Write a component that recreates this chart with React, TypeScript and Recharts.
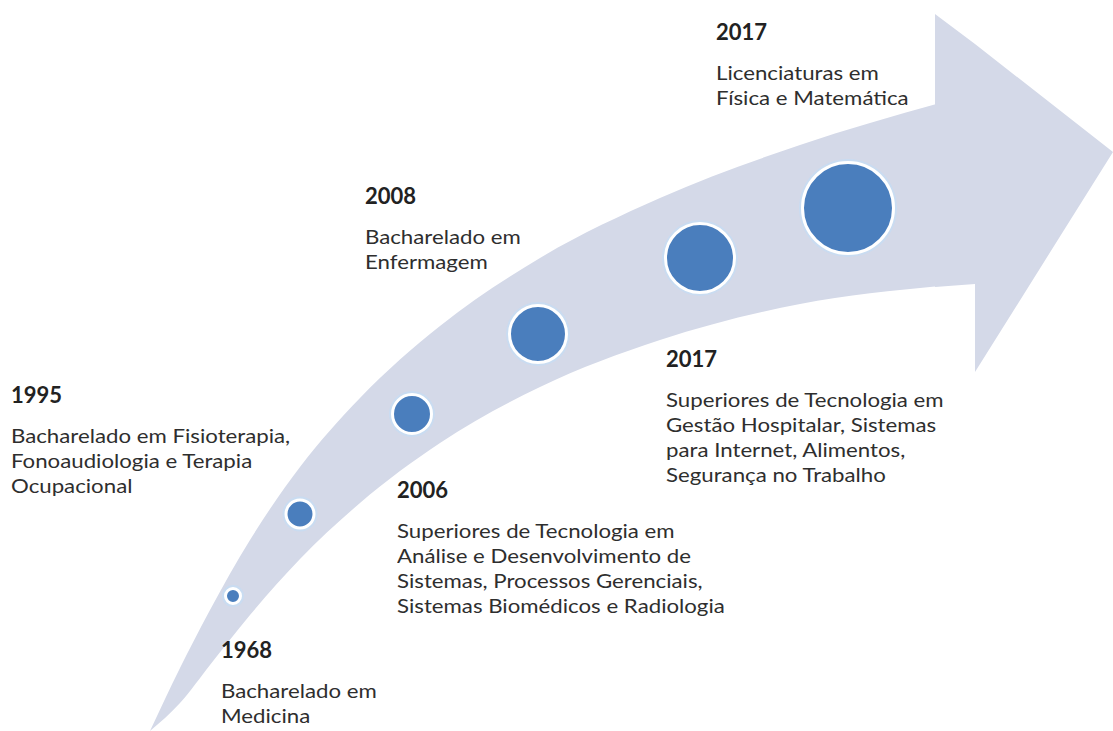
import { Area, ComposedChart, Scatter, XAxis, YAxis, ZAxis } from 'recharts';

// marcos da linha do tempo (ordem cronológica ao longo da seta)
const milestoneYears = ['1968', '1995', '2006', '2008', '2017', '2017'];
const milestoneLines = [
  ['Bacharelado em', 'Medicina'],
  ['Bacharelado em Fisioterapia,', 'Fonoaudiologia e Terapia', 'Ocupacional'],
  ['Superiores de Tecnologia em', 'Análise e Desenvolvimento de', 'Sistemas, Processos Gerenciais,', 'Sistemas Biomédicos e Radiologia'],
  ['Bacharelado em', 'Enfermagem'],
  ['Superiores de Tecnologia em', 'Gestão Hospitalar, Sistemas', 'para Internet, Alimentos,', 'Segurança no Trabalho'],
  ['Licenciaturas em', 'Física e Matemática'],
];

// posição das bolhas no plano (x para a direita, y para baixo) e tamanho relativo
const bubbleX = [233, 300, 412, 538, 700, 848];
const bubbleY = [596, 514, 414, 334, 258, 208];
const bubbleSize = [81, 240, 441, 900, 1296, 2209];

// contorno da seta curva: corpo
const shaftX = [150, 180, 210, 250, 300, 360, 440, 540, 660, 800, 940];
const shaftUpper = [731, 668, 610, 540, 467, 398, 326, 258, 198, 145, 103];
const shaftLower = [731, 703, 665, 615, 559, 503, 443, 387, 340, 304, 286];

// contorno da seta curva: ponta
const headX = [935, 975, 975, 1113];
const headUpper = [14, 44, 44, 152];
const headLower = [287, 284, 372, 152];

// canto superior esquerdo de cada bloco de texto
const labelAnchors = [
  { left: 221, top: 636 },
  { left: 11, top: 381 },
  { left: 397, top: 476 },
  { left: 365, top: 182 },
  { left: 666, top: 345 },
  { left: 716, top: 18 },
];

const W = 1113;
const H = 731;

const shaftData = shaftX.map((x, i) => ({ x, band: [shaftLower[i], shaftUpper[i]] }));
const headData = headX.map((x, i) => ({ x, band: [headLower[i], headUpper[i]] }));
const bubbleData = bubbleX.map((x, i) => ({ x, y: bubbleY[i], z: bubbleSize[i], year: milestoneYears[i] }));

const Bubble = (props: any) => {
  const { cx, cy, width, size } = props;
  const r = width ? width / 2 : Math.sqrt((size ?? 0) / Math.PI);
  return (
    <g>
      <circle cx={cx} cy={cy} r={r + 2} fill="#c6dcf4" opacity={0.75} />
      <circle cx={cx} cy={cy} r={r - 1.5} fill="#4a7ebd" stroke="#ffffff" strokeWidth={3} />
    </g>
  );
};

const App = () => {
  return (
    <div style={{ position: 'absolute', left: 0, top: 0, width: W, height: H, background: '#ffffff' }}>
      <ComposedChart width={W} height={H} margin={{ top: 0, right: 0, bottom: 0, left: 0 }}>
        <XAxis type="number" dataKey="x" domain={[0, W]} hide allowDataOverflow />
        <YAxis type="number" domain={[0, H]} reversed hide allowDataOverflow />
        <ZAxis type="number" dataKey="z" domain={[0, 2209]} range={[0, 2209 * Math.PI]} />
        <Area
          data={shaftData}
          dataKey="band"
          type="monotoneX"
          stroke="none"
          fill="#d4d9e8"
          fillOpacity={1}
          dot={false}
          activeDot={false}
          isAnimationActive={false}
        />
        <Area
          data={headData}
          dataKey="band"
          type="linear"
          stroke="none"
          fill="#d4d9e8"
          fillOpacity={1}
          dot={false}
          activeDot={false}
          isAnimationActive={false}
        />
        <Scatter data={bubbleData} dataKey="y" shape={<Bubble />} isAnimationActive={false} />
      </ComposedChart>
      {milestoneYears.map((year, i) => (
        <div
          key={i}
          style={{
            position: 'absolute',
            left: labelAnchors[i].left,
            top: labelAnchors[i].top,
            fontFamily: 'Lato, "Liberation Sans", sans-serif',
            whiteSpace: 'nowrap',
          }}
        >
          <div style={{ fontSize: 22, fontWeight: 700, lineHeight: '28px', color: '#222222' }}>{year}</div>
          <div
            style={{
              fontSize: 19,
              lineHeight: '25px',
              marginTop: 14,
              color: '#2e2e2e',
              transform: 'scaleX(1.17)',
              transformOrigin: 'left top',
            }}
          >
            {milestoneLines[i].map((line) => (
              <div key={line}>{line}</div>
            ))}
          </div>
        </div>
      ))}
    </div>
  );
};

export default App;
